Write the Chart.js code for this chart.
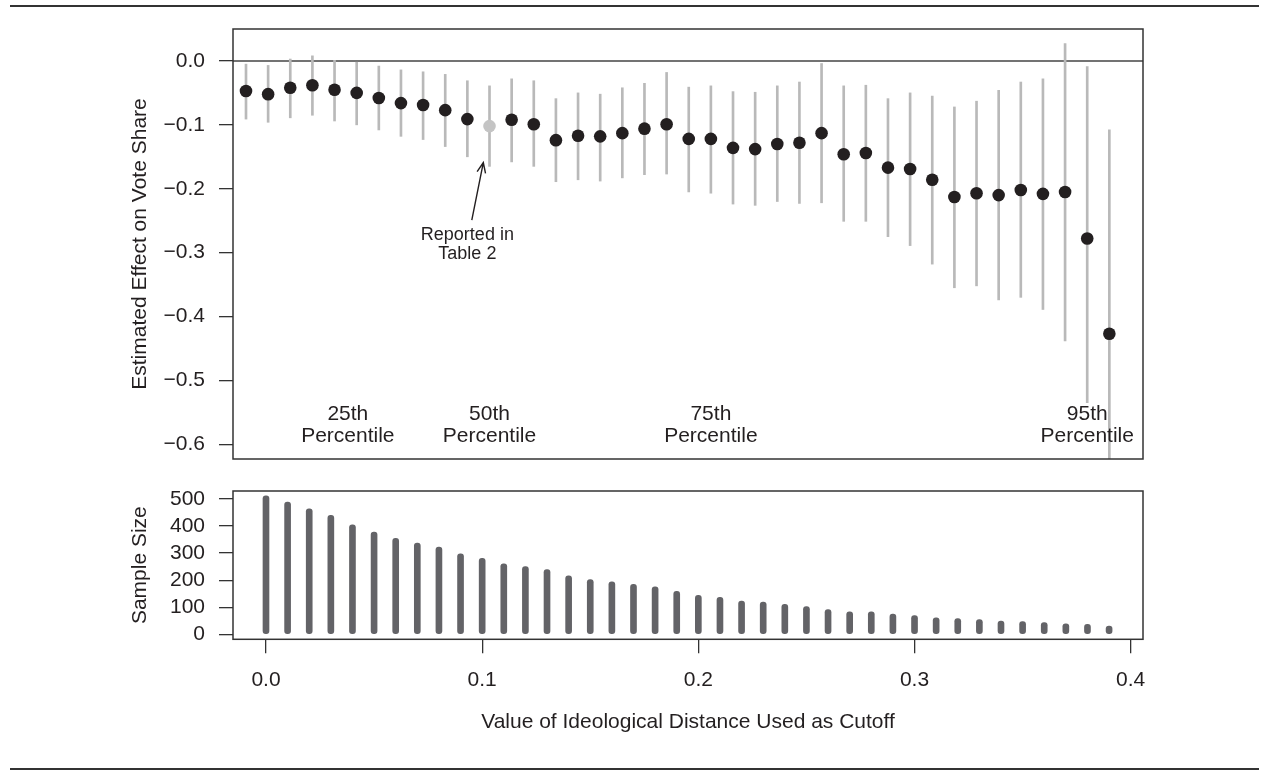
<!DOCTYPE html>
<html>
<head>
<meta charset="utf-8">
<script src="https://cdn.jsdelivr.net/npm/chart.js@4/dist/chart.umd.min.js"></script>
<style>
  html, body { margin: 0; padding: 0; background: #fff; }
  #wrap { position: relative; width: 1269px; height: 771px; overflow: hidden; }
  canvas { position: absolute; left: 0; }
  #topChart { top: 0; }
  #bottomChart { top: 470px; }
  .rule { position: absolute; left: 10px; width: 1249px; height: 2px; background: #333; }
</style>
</head>
<body>
<div id="wrap">
  <div class="rule" style="top:5px"></div>
  <canvas id="topChart" width="1269" height="470"></canvas>
  <canvas id="bottomChart" width="1269" height="301"></canvas>
  <div class="rule" style="top:768px"></div>
</div>
<script>
// cutoff values (ideological distance)
const CUTOFFS = [
  0.00, 0.01, 0.02, 0.03, 0.04, 0.05, 0.06, 0.07, 0.08, 0.09,
  0.10, 0.11, 0.12, 0.13, 0.14, 0.15, 0.16, 0.17, 0.18, 0.19,
  0.20, 0.21, 0.22, 0.23, 0.24, 0.25, 0.26, 0.27, 0.28, 0.29,
  0.30, 0.31, 0.32, 0.33, 0.34, 0.35, 0.36, 0.37, 0.38, 0.39,
];

const ESTIMATE = [
  -0.047, -0.052, -0.042, -0.038, -0.045, -0.050, -0.058, -0.066, -0.069, -0.077,
  -0.091, -0.102, -0.092, -0.099, -0.124, -0.117, -0.118, -0.113, -0.106, -0.099,
  -0.122, -0.122, -0.136, -0.138, -0.130, -0.128, -0.113, -0.146, -0.144, -0.167,
  -0.169, -0.186, -0.213, -0.207, -0.210, -0.202, -0.208, -0.205, -0.278, -0.427,
];

const CI_LOW = [
  -0.091, -0.096, -0.089, -0.085, -0.094, -0.100, -0.108, -0.118, -0.123, -0.134,
  -0.150, -0.165, -0.158, -0.165, -0.189, -0.186, -0.188, -0.183, -0.178, -0.177,
  -0.205, -0.207, -0.224, -0.226, -0.220, -0.223, -0.222, -0.251, -0.251, -0.275,
  -0.289, -0.318, -0.355, -0.352, -0.374, -0.370, -0.389, -0.438, -0.535, -0.760,
];

const CI_HIGH = [
  -0.005, -0.007, 0.003, 0.008, 0.001, -0.002, -0.008, -0.014, -0.017, -0.021,
  -0.031, -0.039, -0.028, -0.031, -0.059, -0.050, -0.052, -0.042, -0.035, -0.018,
  -0.041, -0.039, -0.048, -0.049, -0.039, -0.033, -0.004, -0.039, -0.038, -0.059,
  -0.050, -0.055, -0.072, -0.063, -0.046, -0.033, -0.028, 0.027, -0.009, -0.108,
];

const SAMPLE_SIZE = [
  512, 489, 464, 440, 405, 378, 355, 337, 322, 297,
  281, 260, 250, 239, 216, 202, 194, 185, 175, 159,
  144, 137, 123, 119, 111, 102, 91, 83, 83, 75,
  69, 61, 58, 54, 49, 47, 43, 39, 37, 30,
];

// the estimate reported in Table 2 (0.11 cutoff)
const HIGHLIGHT_INDEX = 11;

const EFFECT_TICKS = [0, -0.1, -0.2, -0.3, -0.4, -0.5, -0.6];
const SIZE_TICKS = [0, 100, 200, 300, 400, 500];
const CUTOFF_TICKS = [0.0, 0.1, 0.2, 0.3, 0.4];

// percentile labels, in data units of the top panel
const PERCENTILE_LABELS = [
  { x: 0.046, top: "25th" },
  { x: 0.110, top: "50th" },
  { x: 0.210, top: "75th" },
  { x: 0.380, top: "95th" },
];

const FONT = "'Liberation Sans', Arial, Helvetica, sans-serif";
const INK = "#231f20";

Chart.defaults.font.family = FONT;
Chart.defaults.color = INK;

function minus(str) {
  return str.replace("-", "\u2212");
}

function fixedTicks(values) {
  return (scale) => {
    scale.ticks = values.map((v) => ({ value: v }));
  };
}

const frame = {
  id: "frame",
  afterDatasetsDraw(chart) {
    const { ctx, chartArea: a } = chart;
    ctx.save();
    ctx.strokeStyle = "#333";
    ctx.lineWidth = 1.5;
    ctx.strokeRect(a.left, a.top, a.right - a.left, a.bottom - a.top);
    ctx.restore();
  },
};

const topAnnotations = {
  id: "topAnnotations",
  beforeDatasetsDraw(chart) {
    const { ctx, chartArea: a } = chart;
    const y0 = chart.scales.y.getPixelForValue(0);
    ctx.save();
    ctx.strokeStyle = "#444";
    ctx.lineWidth = 1.5;
    ctx.beginPath();
    ctx.moveTo(a.left, y0);
    ctx.lineTo(a.right, y0);
    ctx.stroke();
    ctx.restore();
  },
  afterDatasetsDraw(chart) {
    const { ctx } = chart;
    const xs = chart.scales.x;
    const ys = chart.scales.y;
    ctx.save();
    ctx.fillStyle = INK;
    ctx.textAlign = "center";
    ctx.textBaseline = "alphabetic";
    ctx.font = `21px ${FONT}`;
    for (const p of PERCENTILE_LABELS) {
      const px = xs.getPixelForValue(p.x);
      ctx.fillText(p.top, px, ys.getPixelForValue(-0.562));
      ctx.fillText("Percentile", px, ys.getPixelForValue(-0.5965));
    }

    ctx.font = `18px ${FONT}`;
    const tx = xs.getPixelForValue(0.100);
    ctx.fillText("Reported in", tx, ys.getPixelForValue(-0.280));
    ctx.fillText("Table 2", tx, ys.getPixelForValue(-0.310));

    // arrow pointing at the highlighted estimate
    const x1 = xs.getPixelForValue(0.102);
    const y1 = ys.getPixelForValue(-0.249);
    const x2 = xs.getPixelForValue(0.1072);
    const y2 = ys.getPixelForValue(-0.159);
    const ang = Math.atan2(y2 - y1, x2 - x1);
    const head = 11;
    ctx.strokeStyle = INK;
    ctx.lineWidth = 1.4;
    ctx.beginPath();
    ctx.moveTo(x1, y1);
    ctx.lineTo(x2, y2);
    ctx.moveTo(x2 - head * Math.cos(ang - 0.4), y2 - head * Math.sin(ang - 0.4));
    ctx.lineTo(x2, y2);
    ctx.lineTo(x2 - head * Math.cos(ang + 0.4), y2 - head * Math.sin(ang + 0.4));
    ctx.stroke();
    ctx.restore();
  },
};

const axisFont = { size: 21, lineHeight: 1.2 };

const tickGrid = {
  drawOnChartArea: false,
  drawTicks: true,
  offset: false,
  tickLength: 14,
  color: "#333",
  lineWidth: 1.3,
};

const yAxisCommon = {
  afterFit(scale) {
    scale.width = 233;
    scale.paddingTop = 0;
    scale.paddingBottom = 0;
  },
  border: { display: false },
  grid: tickGrid,
};

new Chart(document.getElementById("topChart"), {
  type: "bar",
  data: {
    datasets: [
      {
        type: "scatter",
        data: CUTOFFS.map((c, i) => ({ x: c, y: ESTIMATE[i] })),
        pointRadius: 6.3,
        pointHoverRadius: 6.3,
        pointBorderWidth: 0,
        pointBackgroundColor: CUTOFFS.map((c, i) => (i === HIGHLIGHT_INDEX ? "#c4c4c4" : INK)),
        order: 1,
      },
      {
        type: "bar",
        data: CUTOFFS.map((c, i) => ({ x: c, y: [CI_LOW[i], CI_HIGH[i]] })),
        backgroundColor: "#b9b9b9",
        barThickness: 2,
        borderWidth: 0,
        order: 2,
      },
    ],
  },
  options: {
    responsive: false,
    animation: false,
    layout: { padding: { left: 0, right: 126, top: 29, bottom: 11 } },
    plugins: { legend: { display: false }, tooltip: { enabled: false } },
    scales: {
      x: {
        type: "linear",
        display: false,
        offset: false,
        min: -0.00587,
        max: 0.4052,
      },
      y: {
        ...yAxisCommon,
        min: -0.623,
        max: 0.05,
        afterBuildTicks: fixedTicks(EFFECT_TICKS),
        ticks: {
          padding: 14,
          font: axisFont,
          callback: (v) => minus(Number(v).toFixed(1)),
        },
        title: {
          display: true,
          text: "Estimated Effect on Vote Share",
          font: axisFont,
          padding: { top: 128, bottom: 0 },
        },
      },
    },
  },
  plugins: [topAnnotations, frame],
});

new Chart(document.getElementById("bottomChart"), {
  type: "bar",
  data: {
    datasets: [
      {
        data: CUTOFFS.map((c, i) => ({ x: c, y: SAMPLE_SIZE[i] })),
        backgroundColor: "#636367",
        barThickness: 6,
        borderRadius: 3,
        borderSkipped: false,
        borderWidth: 0,
      },
    ],
  },
  options: {
    responsive: false,
    animation: false,
    layout: { padding: { left: 0, right: 126, top: 21, bottom: 0 } },
    plugins: { legend: { display: false }, tooltip: { enabled: false } },
    scales: {
      x: {
        type: "linear",
        offset: false,
        min: -0.01526,
        max: 0.40569,
        afterBuildTicks: fixedTicks(CUTOFF_TICKS),
        afterFit(scale) {
          scale.height = 131.7;
          scale.paddingLeft = 0;
          scale.paddingRight = 0;
        },
        border: { display: false },
        grid: tickGrid,
        ticks: {
          padding: 14,
          maxRotation: 0,
          font: axisFont,
          callback: (v) => Number(v).toFixed(1),
        },
        title: {
          display: true,
          text: "Value of Ideological Distance Used as Cutoff",
          font: axisFont,
          padding: { top: 0, bottom: 36 },
        },
      },
      y: {
        ...yAxisCommon,
        min: -18.5,
        max: 529.6,
        afterBuildTicks: fixedTicks(SIZE_TICKS),
        ticks: {
          padding: 14,
          font: axisFont,
          callback: (v) => String(v),
        },
        title: {
          display: true,
          text: "Sample Size",
          font: axisFont,
          padding: { top: 128, bottom: 0 },
        },
      },
    },
  },
  plugins: [frame],
});
</script>
</body>
</html>
